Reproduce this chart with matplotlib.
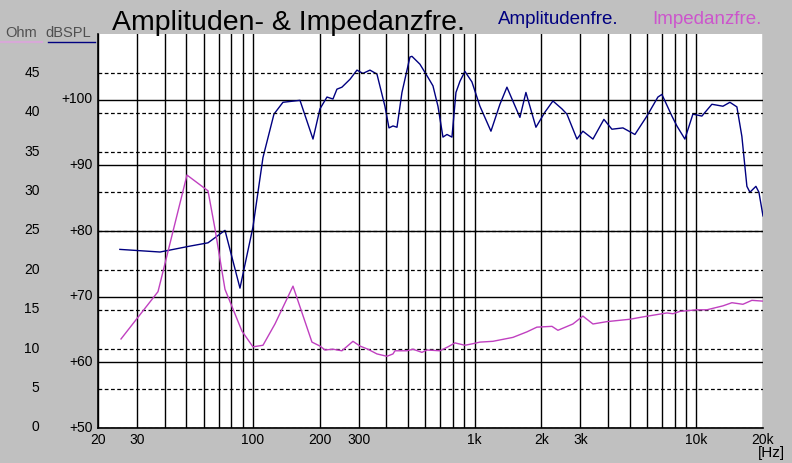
import matplotlib
matplotlib.use("Agg")
import matplotlib.pyplot as plt
from matplotlib.lines import Line2D
from matplotlib.ticker import FixedLocator, NullFormatter
from matplotlib.transforms import offset_copy

plt.rcParams['font.family'] = ['Liberation Sans', 'DejaVu Sans']

# Amplitude response (dB SPL)
amp_freq = [25.1, 34.3, 38.1, 52.0, 62.7, 74.8, 87.4, 100, 111, 124.4, 136.6, 163, 186.6,
            200.6, 215.8, 229.6, 239.3, 252, 274, 294.6, 313.5, 337.2, 362.6, 393.9, 410.9,
            428.3, 446.5, 470.2, 510.9, 521.6, 566.7, 616, 648.9, 683.4, 719.8, 750.4, 790.4,
            823.9, 858.8, 904.5, 972.7, 1057, 1185, 1301, 1399, 1601, 1704, 1891, 2076, 2256,
            2477, 2609, 2895, 3080, 3419, 3831, 4163, 4668, 5287, 5988, 6713, 6998, 7765, 8176,
            8884, 9656, 10600, 11760, 13190, 14180, 15250, 16060, 16920, 17460, 18580, 19170,
            20000]
amp_db = [77.2, 76.9, 76.8, 77.7, 78.2, 80.1, 71.3, 80.6, 91.2, 97.8, 99.6, 99.9, 94.0,
          98.6, 100.4, 100.1, 101.6, 101.9, 103.1, 104.5, 104.0, 104.5, 103.9, 99.0, 95.7,
          96.0, 95.8, 101.1, 106.5, 106.6, 105.4, 103.4, 102.1, 99.0, 94.3, 94.7, 94.3,
          101.1, 102.8, 104.3, 102.7, 99.0, 95.2, 99.3, 101.9, 97.3, 101.1, 95.8, 98.1, 99.8,
          98.6, 97.8, 94.0, 95.2, 94.0, 97.0, 95.5, 95.7, 94.7, 97.5, 100.4, 100.8, 97.5, 96.0,
          94.0, 97.8, 97.5, 99.3, 99.0, 99.6, 98.9, 94.4, 86.8, 85.9, 86.8, 85.9, 82.3]

# Impedance response (Ohm)
imp_freq = [25.4, 37.3, 50.4, 62.7, 67.4, 74.8, 89.2, 100, 111, 125.7, 151.6, 184.6, 200.6,
            211.4, 229.6, 252, 282.6, 304, 330, 362.6, 402.3, 428.3, 437.2, 495.2, 527, 578.6,
            609.5, 697.7, 758.3, 815.4, 904.5, 982.9, 1057, 1209, 1489, 1722, 1910, 2233, 2376,
            2776, 3080, 3419, 3953, 5020, 5745, 7371, 7846, 8437, 10070, 11170, 13190, 14480,
            16230, 17820, 20000]
imp_ohm = [11.3, 17.3, 32.1, 30.1, 25.3, 17.6, 12.3, 10.3, 10.5, 13.2, 18.0, 10.9, 10.4,
           9.9, 10.0, 9.8, 11.0, 10.4, 10.0, 9.4, 9.1, 9.4, 9.8, 9.8, 10.0, 9.6,
           9.9, 9.8, 10.3, 10.8, 10.5, 10.7, 10.9, 11.0, 11.5, 12.2, 12.8, 12.9, 12.4,
           13.2, 14.2, 13.2, 13.5, 13.8, 14.1, 14.6, 14.5, 14.8, 15.0, 15.0, 15.5, 15.9,
           15.7, 16.2, 16.1]

x_major = [20, 30, 100, 200, 300, 1000, 2000, 3000, 10000, 20000]
x_major_labels = ['20', '30', '100', '200', '300', '1k', '2k', '3k', '10k', '20k']
x_minor = [40, 50, 60, 70, 80, 90, 400, 500, 600, 700, 800, 900,
           4000, 5000, 6000, 7000, 8000, 9000]
db_ticks = [50, 60, 70, 80, 90, 100]
db_labels = ['+50', '+60', '+70', '+80', '+90', '+100']
ohm_ticks = [0, 5, 10, 15, 20, 25, 30, 35, 40, 45]
ohm_labels = ['0', '5', '10', '15', '20', '25', '30', '35', '40', '45']

bg = '#c0c0c0'
navy = '#000080'
magenta = '#c040c0'

fig = plt.figure(figsize=(7.92, 4.64), dpi=100, facecolor=bg)
ax = fig.add_axes([98 / 792, 1 - 429 / 464, 665 / 792, 394 / 464])
ax.set_facecolor('white')
ax.set_xscale('log')
ax.set_xlim(20, 20000)
ax.set_ylim(50, 110)

ax.xaxis.set_major_locator(FixedLocator(x_major))
ax.xaxis.set_minor_locator(FixedLocator(x_minor))
ax.xaxis.set_minor_formatter(NullFormatter())
ax.set_xticklabels(x_major_labels)
ax.set_yticks(db_ticks)
ax.set_yticklabels(db_labels)
ax.tick_params(axis='both', which='both', length=0, labelsize=10, colors='black')
ax.tick_params(axis='x', pad=3)
ax.tick_params(axis='y', pad=4)
ax.grid(True, axis='x', which='both', color='black', lw=1.0)
ax.grid(True, axis='y', which='major', color='black', lw=1.0)
ax.set_axisbelow(True)

for side in ['top', 'right']:
    ax.spines[side].set_visible(False)
for side in ['left', 'bottom']:
    ax.spines[side].set_color('black')
    ax.spines[side].set_linewidth(1.2)

ax.plot(amp_freq, amp_db, color=navy, lw=1.0, zorder=5)

ax2 = ax.twinx()
ax2.set_ylim(0, 50)
ax2.set_yticks(ohm_ticks)
ax2.set_yticklabels(ohm_labels)
ax2.yaxis.tick_left()
ax2.tick_params(axis='y', length=0, labelsize=10, pad=42)
ax2.grid(True, axis='y', color='black', lw=0.9, linestyle=(0, (3, 2)))
for s in ax2.spines.values():
    s.set_visible(False)
ax2.plot(imp_freq, imp_ohm, color=magenta, lw=1.0, zorder=5)

# lift the y labels slightly above their grid lines
for lab in ax.get_yticklabels() + ax2.get_yticklabels():
    lab.set_transform(offset_copy(lab.get_transform(), fig=fig, x=0, y=3, units='dots'))

# titles and legend-like labels
fig.text(289 / 792, 1 - 30 / 464, 'Amplituden- & Impedanzfre.', fontsize=20.5,
         ha='center', va='baseline', color='black')
fig.text(498 / 792, 1 - 24 / 464, 'Amplitudenfre.', fontsize=13.5, color=navy, va='baseline')
fig.text(652 / 792, 1 - 24 / 464, 'Impedanzfre.', fontsize=13.5, color='#cc55cc', va='baseline')
fig.text(5 / 792, 1 - 37 / 464, 'Ohm', fontsize=10.5, color='#505050', va='baseline')
fig.text(45 / 792, 1 - 37 / 464, 'dBSPL', fontsize=10.5, color='#505050', va='baseline')
fig.add_artist(Line2D([0 / 792, 42 / 792], [1 - 43 / 464] * 2, color='#d8a8d8', lw=1.5))
fig.add_artist(Line2D([48 / 792, 95 / 792], [1 - 43 / 464] * 2, color=navy, lw=1.0))
fig.text(758 / 792, 1 - 453 / 464, '[Hz]', fontsize=11, va='center', color='black')

fig.savefig('out.png', dpi=100, facecolor=bg)
